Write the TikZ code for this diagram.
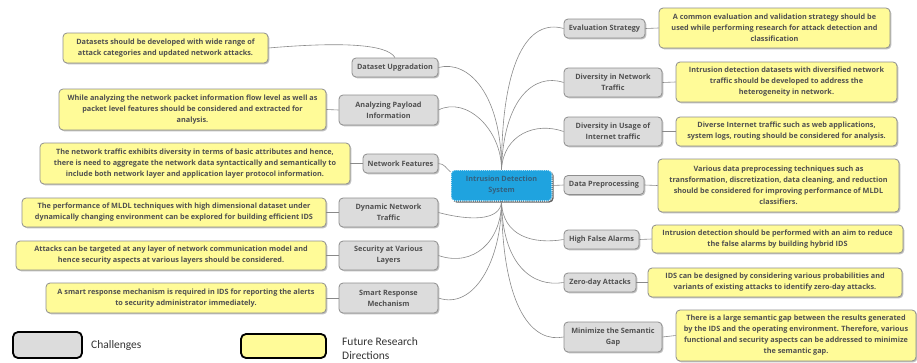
\documentclass[tikz,border=0pt]{standalone}
\usepackage{fontspec}
\setmainfont{Open Sans}
\newfontfamily\legendfont{Carlito}
\usetikzlibrary{shadows}
\definecolor{boxgray}{HTML}{DCDCDC}
\definecolor{boxyellow}{HTML}{FFFB98}
\definecolor{edgegray}{HTML}{8E8E8E}
\definecolor{txtgray}{HTML}{505050}
\definecolor{linegray}{HTML}{8A8A8A}
\definecolor{idsblue}{HTML}{1FA3DF}
\definecolor{idstext}{HTML}{33617F}
\definecolor{legtext}{HTML}{333333}
\begin{document}
\begin{tikzpicture}[x=1pt,y=-1pt,
  sz/.style 2 args={minimum width=#1pt, minimum height=#2pt},
  base/.style={rounded corners=4pt, draw=edgegray, line width=0.8pt,
    align=center, inner sep=0pt, text=txtgray,
    font=\fontsize{7.3}{11}\selectfont\bfseries,
    drop shadow={shadow xshift=1.3pt, shadow yshift=-1.3pt, opacity=0.45, fill=black!55}},
  chal/.style={base, fill=boxgray},
  fut/.style={base, fill=boxyellow},
  hub/.style={rounded corners=4pt, fill=idsblue, draw=white, densely dotted,
    line width=1.1pt, align=center, inner sep=0pt, text=idstext,
    font=\fontsize{7.3}{11}\selectfont\bfseries,
    drop shadow={shadow xshift=1.5pt, shadow yshift=-1.5pt, opacity=0.75, fill=black!80}},
  link/.style={draw=linegray, line width=0.6pt},
  legbox/.style={rounded corners=5pt, draw=black, line width=1.8pt},
  legtxt/.style={text=legtext, inner sep=0pt, align=left,
    font=\legendfont\fontsize{11.5}{14}\selectfont},
]
\useasboundingbox (0,0) rectangle (917,362);

% central topic
\node[hub, sz={101}{31}] (ids) at (501.5,185.5) {Intrusion Detection\\System};

% challenges, left side
\node[chal, sz={86}{19}] (du) at (395,67.5) {Dataset Upgradation};
\node[chal, sz={99}{30}] (ap) at (388.5,110) {Analyzing Payload\\Information};
\node[chal, sz={75}{19}] (nf) at (400.5,163.5) {Network Features};
\node[chal, sz={99}{29}] (dn) at (388.5,212.5) {Dynamic Network\\Traffic};
\node[chal, sz={99}{29}] (sv) at (388.5,255.5) {Security at Various\\Layers};
\node[chal, sz={99}{30}] (sr) at (388.5,298) {Smart Response\\Mechanism};

% challenges, right side
\node[chal, sz={81}{19}] (es) at (604.5,28.5) {Evaluation Strategy};
\node[chal, sz={98}{29}] (dt) at (613,82.5) {Diversity in Network\\Traffic};
\node[chal, sz={98}{29}] (di) at (613,131.5) {Diversity in Usage of\\Internet traffic};
\node[chal, sz={80}{19}] (dp) at (604,185) {Data Preprocessing};
\node[chal, sz={75}{19}] (hf) at (601.5,239.5) {High False Alarms};
\node[chal, sz={72}{19}] (zd) at (600,282.5) {Zero-day Attacks};
\node[chal, sz={98}{30}] (ms) at (613,337) {Minimize the Semantic\\Gap};

% future research directions, left side
\node[fut, sz={205}{30}] (y1) at (165.5,48) {Datasets should be developed with wide range of\\attack categories and updated network attacks.};
\node[fut, sz={267}{41}] (y2) at (192.5,109.5) {While analyzing the network packet information flow level as well as\\packet level features should be considered and extracted for\\analysis.};
\node[fut, sz={310}{41}] (y3) at (195,163.5) {The network traffic exhibits diversity in terms of basic attributes and hence,\\there is need to aggregate the network data syntactically and semantically to\\include both network layer and application layer protocol information.};
\node[fut, sz={304}{29}] (y4) at (174,212.5) {The performance of MLDL techniques with high dimensional dataset under\\dynamically changing environment can be explored for building efficient IDS};
\node[fut, sz={310}{29}] (y5) at (171,255.5) {Attacks can be targeted at any layer of network communication model and\\hence security aspects at various layers should be considered.};
\node[fut, sz={280}{30}] (y6) at (186,298) {A smart response mechanism is required in IDS for reporting the alerts\\to security administrator immediately.};

% future research directions, right side
\node[fut, sz={231}{40}] (r1) at (774.5,28) {A common evaluation and validation strategy should be\\used while performing research for attack detection and\\classification};
\node[fut, sz={221}{40}] (r2) at (786.5,82) {Intrusion detection datasets with diversified network\\traffic should be developed to address the\\heterogeneity in network.};
\node[fut, sz={221}{29}] (r3) at (786.5,131.5) {Diverse Internet traffic such as web applications,\\system logs, routing should be considered for analysis.};
\node[fut, sz={241}{53}] (r4) at (778.5,185.5) {Various data preprocessing techniques such as\\transformation, discretization, data cleaning, and reduction\\should be considered for improving performance of MLDL\\classifiers.};
\node[fut, sz={251}{28}] (r5) at (777.5,239) {Intrusion detection should be performed with an aim to reduce\\the false alarms by building hybrid IDS};
\node[fut, sz={254}{29}] (r6) at (775,282.5) {IDS can be designed by considering various probabilities and\\variants of existing attacks to identify zero-day attacks.};
\node[fut, sz={240}{51}] (r7) at (796,335.5) {There is a large semantic gap between the results generated\\by the IDS and the operating environment. Therefore, various\\functional and security aspects can be addressed to minimize\\the semantic gap.};

% branches from the central topic
\draw[link] (du.east) .. controls +(30,-8) and +(0,-75) .. (ids.north);
\draw[link] (ap.east) .. controls +(28,-14) and +(0,-40) .. (ids.north);
\draw[link] (nf.east) .. controls +(6,0) and +(-4,-3) .. (ids.165);
\draw[link] (dn.east) .. controls +(30,8) and +(-1,20) .. (ids.south);
\draw[link] (sv.east) .. controls +(35,12) and +(0,40) .. (ids.south);
\draw[link] (sr.east) .. controls +(35,12) and +(0,60) .. (ids.south);
\draw[link] (ids.north) .. controls +(0,-110) and +(-35,-10) .. (es.west);
\draw[link] (ids.north) .. controls +(2,-70) and +(-30,-10) .. (dt.west);
\draw[link] (ids.north) .. controls +(2,-35) and +(-28,-10) .. (di.west);
\draw[link] (ids.east) -- (dp.west);
\draw[link] (ids.south) .. controls +(1,35) and +(-30,5) .. (hf.west);
\draw[link] (ids.south) .. controls +(1,65) and +(-30,5) .. (zd.west);
\draw[link] (ids.south) .. controls +(1,110) and +(-30,6) .. (ms.west);

% challenge to research direction
\draw[link] (y1.east) .. controls +(70,-6) and +(-8,-14) .. (du.north);
\draw[link] (ap.west) -- (y2.east);
\draw[link] (nf.west) -- (y3.east);
\draw[link] (dn.west) -- (y4.east);
\draw[link] (sv.west) -- (y5.east);
\draw[link] (sr.west) -- (y6.east);
\draw[link] (es.east) -- (r1.west);
\draw[link] (dt.east) -- (r2.west);
\draw[link] (di.east) -- (r3.west);
\draw[link] (dp.east) -- (r4.west);
\draw[link] (hf.east) -- (r5.west);
\draw[link] (zd.east) -- (r6.west);
\draw[link] (ms.east) -- (r7.west);

% legend
\node[legbox, fill=boxgray, sz={69}{26}] (lg1) at (47.5,345) {};
\node[legtxt, anchor=west] (lt1) at (91,345) {Challenges};
\node[legbox, fill=boxyellow, sz={85}{24}] (lg2) at (283.5,346) {};
\node[legtxt, anchor=north west] (lt2) at (342,337.5) {Future Research\\Directions};
\end{tikzpicture}
\end{document}
